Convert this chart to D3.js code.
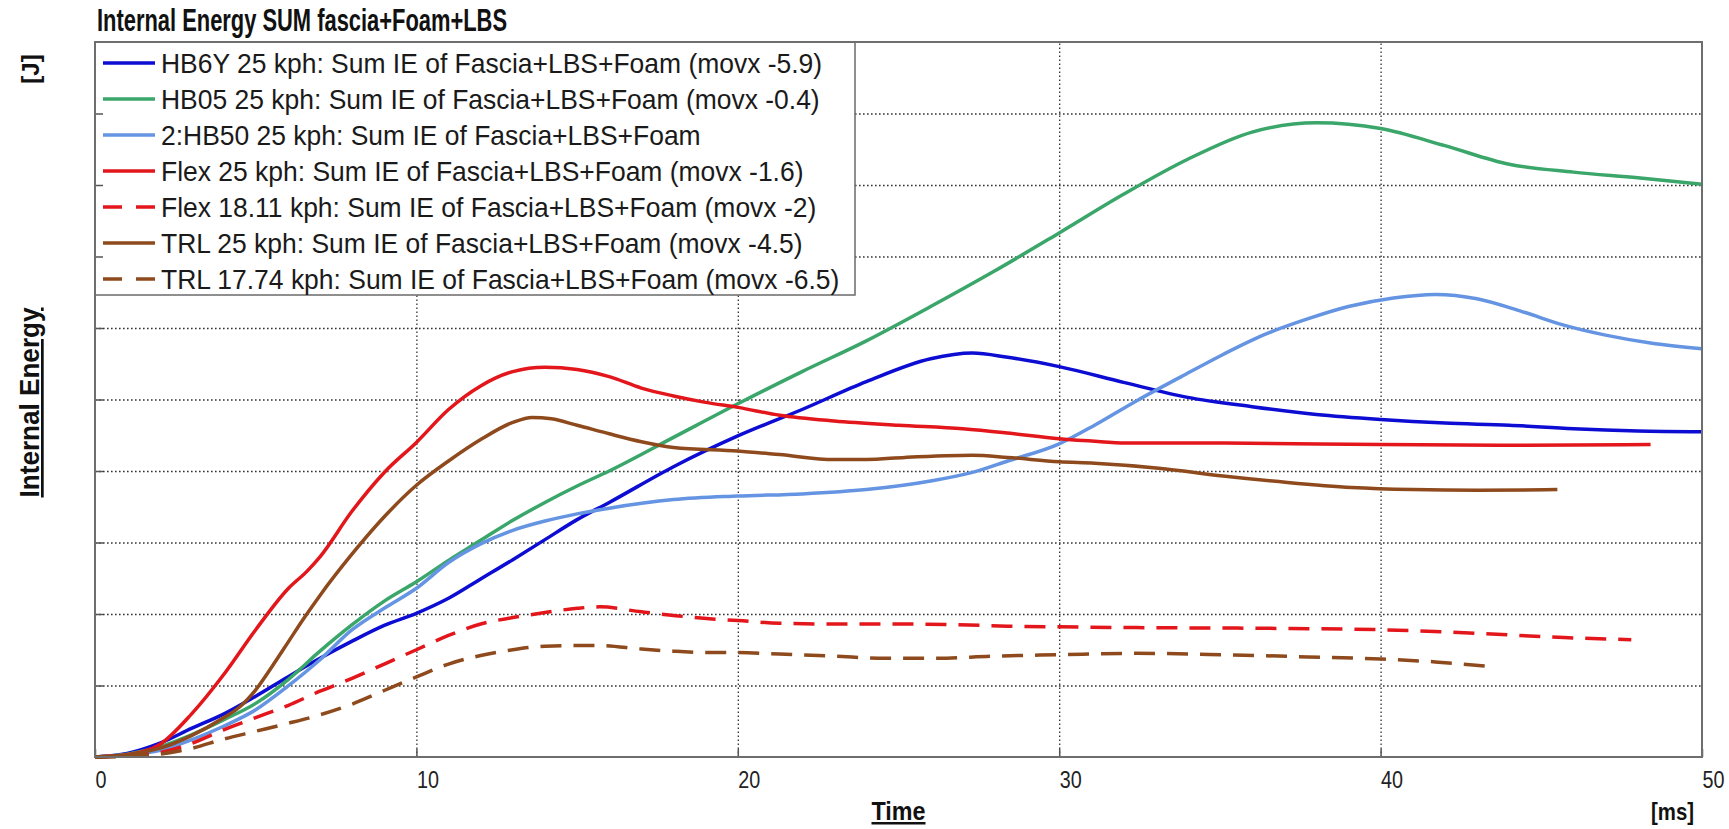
<!DOCTYPE html>
<html>
<head>
<meta charset="utf-8">
<script src="https://cdn.jsdelivr.net/npm/d3@7"></script>
<style>
    html, body { margin: 0; padding: 0; background: #fff; }
    svg { display: block; font-family: "Liberation Sans", Arial, sans-serif; }
</style>
</head>
<body>
<svg id="chart" width="1729" height="829"></svg>
<script>
// values (time in ms, energy in grid units, y axis has no labels)
const xTicks = [0, 10, 20, 30, 40, 50];
const yGridValues = [1, 2, 3, 4, 5, 6, 7, 8, 9];

const legendLabels = [
    'HB6Y 25 kph: Sum IE of Fascia+LBS+Foam (movx -5.9)',
    'HB05 25 kph: Sum IE of Fascia+LBS+Foam (movx -0.4)',
    '2:HB50 25 kph: Sum IE of Fascia+LBS+Foam',
    'Flex 25 kph: Sum IE of Fascia+LBS+Foam (movx -1.6)',
    'Flex 18.11 kph: Sum IE of Fascia+LBS+Foam (movx -2)',
    'TRL 25 kph: Sum IE of Fascia+LBS+Foam (movx -4.5)',
    'TRL 17.74 kph: Sum IE of Fascia+LBS+Foam (movx -6.5)'
];

const hb6yTime = [0, 1, 2, 3, 4, 5, 6, 7, 8, 9, 10, 11, 12, 13, 14, 15, 16, 18, 20, 22, 24, 26, 27.3, 28.4, 30, 32, 34, 36, 38, 40, 42, 44, 46, 48, 50];
const hb6yIE = [0, 0.05, 0.19, 0.4, 0.6, 0.85, 1.12, 1.38, 1.62, 1.84, 2.01, 2.22, 2.49, 2.76, 3.04, 3.32, 3.56, 4.06, 4.49, 4.86, 5.25, 5.57, 5.65, 5.59, 5.46, 5.24, 5.03, 4.9, 4.79, 4.72, 4.67, 4.64, 4.59, 4.56, 4.55];

const hb05Time = [0, 1, 2, 3, 4, 5, 6, 7, 8, 9, 10, 11, 12, 13, 14, 15, 16, 18, 20, 22, 24, 26, 28, 30, 32, 34, 36, 38, 40, 42, 44, 46, 48, 50];
const hb05IE = [0, 0.04, 0.14, 0.31, 0.52, 0.75, 1.08, 1.48, 1.85, 2.18, 2.45, 2.75, 3.03, 3.31, 3.56, 3.79, 4.0, 4.47, 4.94, 5.39, 5.82, 6.3, 6.8, 7.33, 7.87, 8.36, 8.74, 8.87, 8.79, 8.55, 8.29, 8.18, 8.1, 8.01];

const hb50Time = [0, 1, 2, 3, 4, 5, 6, 7, 8, 9, 10, 11, 12, 13, 14, 15, 16, 18, 20, 22, 24, 26, 27.3, 28.4, 30, 31.1, 32.4, 33.8, 35.1, 36.4, 37.75, 39, 40.4, 41.7, 43, 44.4, 45.7, 47, 48.4, 50];
const hb50IE = [0, 0.03, 0.09, 0.24, 0.43, 0.66, 0.99, 1.36, 1.78, 2.08, 2.36, 2.72, 2.98, 3.17, 3.3, 3.4, 3.48, 3.6, 3.65, 3.68, 3.74, 3.86, 3.98, 4.14, 4.38, 4.64, 4.98, 5.32, 5.63, 5.91, 6.13, 6.3, 6.42, 6.47, 6.41, 6.23, 6.04, 5.9, 5.79, 5.71];

const flex25Time = [0, 1, 2, 3, 4, 5, 6, 6.6, 7, 8, 9, 10, 11, 12, 13, 14, 15, 16, 17, 18, 19, 20, 21.3, 23, 25, 27, 28.4, 30, 31.3, 32.2, 35, 40, 44.4, 48.4];
const flex25IE = [0, 0.03, 0.17, 0.6, 1.15, 1.78, 2.35, 2.6, 2.8, 3.44, 3.98, 4.4, 4.86, 5.19, 5.39, 5.45, 5.42, 5.32, 5.16, 5.05, 4.96, 4.89, 4.78, 4.7, 4.64, 4.59, 4.53, 4.45, 4.41, 4.39, 4.39, 4.37, 4.36, 4.37];

const flex18Time = [0, 1, 2, 3, 4, 5, 6, 7, 8, 9, 10, 11, 12, 13, 14, 15, 15.7, 17, 18, 19.2, 20, 21.3, 23, 25, 26.8, 28.4, 30, 32.4, 36.4, 40, 43, 45.7, 47.8];
const flex18IE = [0, 0.02, 0.06, 0.19, 0.38, 0.55, 0.72, 0.92, 1.1, 1.3, 1.5, 1.7, 1.86, 1.95, 2.02, 2.08, 2.1, 2.03, 1.98, 1.93, 1.91, 1.87, 1.86, 1.86, 1.85, 1.83, 1.82, 1.81, 1.8, 1.78, 1.73, 1.67, 1.64];

const trl25Time = [0, 1, 2, 3, 4, 4.5, 5, 5.5, 6, 6.5, 7, 8, 9, 10, 11, 12, 13, 13.6, 14.2, 15, 16, 17, 18, 20, 21.3, 23, 24, 25.2, 27.3, 28.4, 30, 31.1, 33.1, 35.1, 37.1, 39.1, 41, 43, 45.5];
const trl25IE = [0, 0.03, 0.12, 0.3, 0.55, 0.7, 0.94, 1.26, 1.6, 1.94, 2.26, 2.84, 3.36, 3.8, 4.14, 4.44, 4.68, 4.75, 4.73, 4.64, 4.52, 4.41, 4.33, 4.28, 4.23, 4.16, 4.16, 4.19, 4.22, 4.19, 4.13, 4.11, 4.04, 3.93, 3.84, 3.77, 3.74, 3.73, 3.74];

const trl17Time = [0, 1, 2, 3, 4, 5, 6, 7, 8, 9, 10, 11, 12, 13, 14, 15, 15.7, 17, 18, 19.2, 20, 21.3, 23, 24.6, 26.2, 27.9, 30, 32.4, 35.1, 37.75, 40, 41.7, 43.3];
const trl17IE = [0, 0.01, 0.04, 0.12, 0.25, 0.36, 0.47, 0.59, 0.74, 0.93, 1.12, 1.3, 1.42, 1.5, 1.55, 1.56, 1.56, 1.51, 1.48, 1.46, 1.46, 1.44, 1.41, 1.38, 1.38, 1.41, 1.43, 1.45, 1.43, 1.4, 1.37, 1.33, 1.27];

class InternalEnergyChart {
    constructor(series) {
        this.series = series;

        this.MARGIN = {top: 42, right: 27, bottom: 72, left: 95};
        this.WIDTH = 1729;
        this.HEIGHT = 829;
        this.PLOT_W = this.WIDTH - this.MARGIN.left - this.MARGIN.right;
        this.PLOT_H = this.HEIGHT - this.MARGIN.top - this.MARGIN.bottom;

        this.xScale = d3.scaleLinear()
            .domain([0, 50])
            .range([this.MARGIN.left, this.WIDTH - this.MARGIN.right]);

        this.yScale = d3.scaleLinear()
            .domain([0, 10])
            .range([this.HEIGHT - this.MARGIN.bottom, this.MARGIN.top]);

        this.svg = d3.select('#chart');
        this.drawChart();
    }

    drawChart() {
        this.drawGrid();
        this.drawLegend();
        this.drawLines();
        this.drawAxis();
        this.drawLabels();
    }

    drawGrid() {
        let grid = this.svg.append('g');

        // dotted grid lines
        grid.append('g')
            .attr('transform', `translate(0, ${this.yScale(0)})`)
            .call(d3.axisBottom(this.xScale).tickValues(xTicks.slice(1, -1)).tickSize(-this.PLOT_H).tickFormat(''));
        grid.append('g')
            .attr('transform', `translate(${this.xScale(0)}, 0)`)
            .call(d3.axisLeft(this.yScale).tickValues(yGridValues).tickSize(-this.PLOT_W).tickFormat(''));

        grid.selectAll('.domain').remove();
        grid.selectAll('.tick line')
            .attr('stroke', '#333')
            .attr('stroke-width', 1.3)
            .attr('stroke-dasharray', '1.6,2.4');
    }

    drawLegend() {
        const ROW = 36;
        const SX = 0.945; // legend font is a little condensed
        let legend = this.svg.append('g');

        legend.append('rect')
            .attr('x', this.xScale(0))
            .attr('y', this.yScale(10))
            .attr('width', 760)
            .attr('height', 253)
            .attr('fill', '#fff')
            .attr('stroke', '#6a6a6a')
            .attr('stroke-width', 1.5);

        let rows = legend.selectAll('g.row')
            .data(this.series)
            .join('g')
            .attr('class', 'row')
            .attr('transform', (d, i) => `translate(${this.xScale(0)}, ${this.yScale(10) + 21 + i * ROW})`);

        rows.append('line')
            .attr('x1', 8).attr('x2', 60)
            .attr('stroke', d => d.color)
            .attr('stroke-width', 3.5)
            .attr('stroke-dasharray', d => d.dash ? '19,14' : null);

        rows.append('text')
            .attr('transform', `translate(66, 0) scale(${SX}, 1)`)
            .attr('dy', '0.36em')
            .attr('font-size', 28)
            .attr('fill', '#1a1a1a')
            .text(d => d.label);
    }

    drawLines() {
        let line = d3.line()
            .x(d => this.xScale(d[0]))
            .y(d => this.yScale(d[1]))
            .curve(d3.curveMonotoneX);

        this.svg.append('g')
            .selectAll('path')
            .data(this.series)
            .join('path')
            .attr('d', d => line(d3.zip(d.time, d.energy)))
            .attr('fill', 'none')
            .attr('stroke', d => d.color)
            .attr('stroke-width', 3.5)
            .attr('stroke-linejoin', 'round')
            .attr('stroke-dasharray', d => d.dash ? '21,12' : null);
    }

    drawAxis() {
        // short solid ticks pointing into the plot
        let xAxisSelect = this.svg.append('g')
            .attr('transform', `translate(0, ${this.yScale(0)})`);
        xAxisSelect.call(d3.axisBottom(this.xScale).tickValues(xTicks).tickSize(-8).tickPadding(15));
        xAxisSelect.selectAll('text')
            .attr('text-anchor', 'start')
            .attr('dx', 0)
            .attr('font-size', 23)
            .attr('font-family', '"Liberation Sans", Arial, sans-serif')
            .attr('fill', '#222')
            .attr('textLength', d => String(d).length * 11)
            .attr('lengthAdjust', 'spacingAndGlyphs');

        let yAxisSelect = this.svg.append('g')
            .attr('transform', `translate(${this.xScale(0)}, 0)`);
        yAxisSelect.call(d3.axisLeft(this.yScale).tickValues(yGridValues).tickSize(-8).tickFormat(''));

        this.svg.selectAll('.domain').remove();
        xAxisSelect.selectAll('line').attr('stroke', '#555').attr('stroke-width', 1.5);
        yAxisSelect.selectAll('line').attr('stroke', '#555').attr('stroke-width', 1.5);

        this.svg.append('rect')
            .attr('x', this.xScale(0))
            .attr('y', this.yScale(10))
            .attr('width', this.PLOT_W)
            .attr('height', this.PLOT_H)
            .attr('fill', 'none')
            .attr('stroke', '#6e6e6e')
            .attr('stroke-width', 2);
    }

    drawLabels() {
        this.svg.append('text')
            .attr('x', 97)
            .attr('y', 31)
            .attr('font-size', 32)
            .attr('font-weight', 'bold')
            .attr('fill', '#111')
            .attr('textLength', 410)
            .attr('lengthAdjust', 'spacingAndGlyphs')
            .text('Internal Energy SUM fascia+Foam+LBS');

        this.svg.append('text')
            .attr('transform', `translate(39, ${(this.yScale(0) + this.yScale(10)) / 2 + 3}) rotate(-90)`)
            .attr('text-anchor', 'middle')
            .attr('font-size', 27)
            .attr('font-weight', 'bold')
            .attr('text-decoration', 'underline')
            .attr('fill', '#111')
            .attr('textLength', 190)
            .attr('lengthAdjust', 'spacingAndGlyphs')
            .text('Internal Energy');

        this.svg.append('text')
            .attr('transform', 'translate(39, 69) rotate(-90)')
            .attr('text-anchor', 'middle')
            .attr('font-size', 24)
            .attr('font-weight', 'bold')
            .attr('fill', '#111')
            .text('[J]');

        this.svg.append('text')
            .attr('x', (this.xScale(0) + this.xScale(50)) / 2)
            .attr('y', 820)
            .attr('text-anchor', 'middle')
            .attr('font-size', 25)
            .attr('font-weight', 'bold')
            .attr('text-decoration', 'underline')
            .attr('fill', '#111')
            .attr('textLength', 54)
            .attr('lengthAdjust', 'spacingAndGlyphs')
            .text('Time');

        this.svg.append('text')
            .attr('x', 1694)
            .attr('y', 820)
            .attr('text-anchor', 'end')
            .attr('font-size', 24)
            .attr('font-weight', 'bold')
            .attr('fill', '#111')
            .attr('textLength', 43)
            .attr('lengthAdjust', 'spacingAndGlyphs')
            .text('[ms]');
    }
}

const series = [
    {label: legendLabels[0], time: hb6yTime, energy: hb6yIE, color: '#0c0cd2', dash: false},
    {label: legendLabels[1], time: hb05Time, energy: hb05IE, color: '#3aa66a', dash: false},
    {label: legendLabels[2], time: hb50Time, energy: hb50IE, color: '#6494e2', dash: false},
    {label: legendLabels[3], time: flex25Time, energy: flex25IE, color: '#e2161b', dash: false},
    {label: legendLabels[4], time: flex18Time, energy: flex18IE, color: '#e2161b', dash: true},
    {label: legendLabels[5], time: trl25Time, energy: trl25IE, color: '#8e4a1c', dash: false},
    {label: legendLabels[6], time: trl17Time, energy: trl17IE, color: '#8e4a1c', dash: true}
];

new InternalEnergyChart(series);
</script>
</body>
</html>
